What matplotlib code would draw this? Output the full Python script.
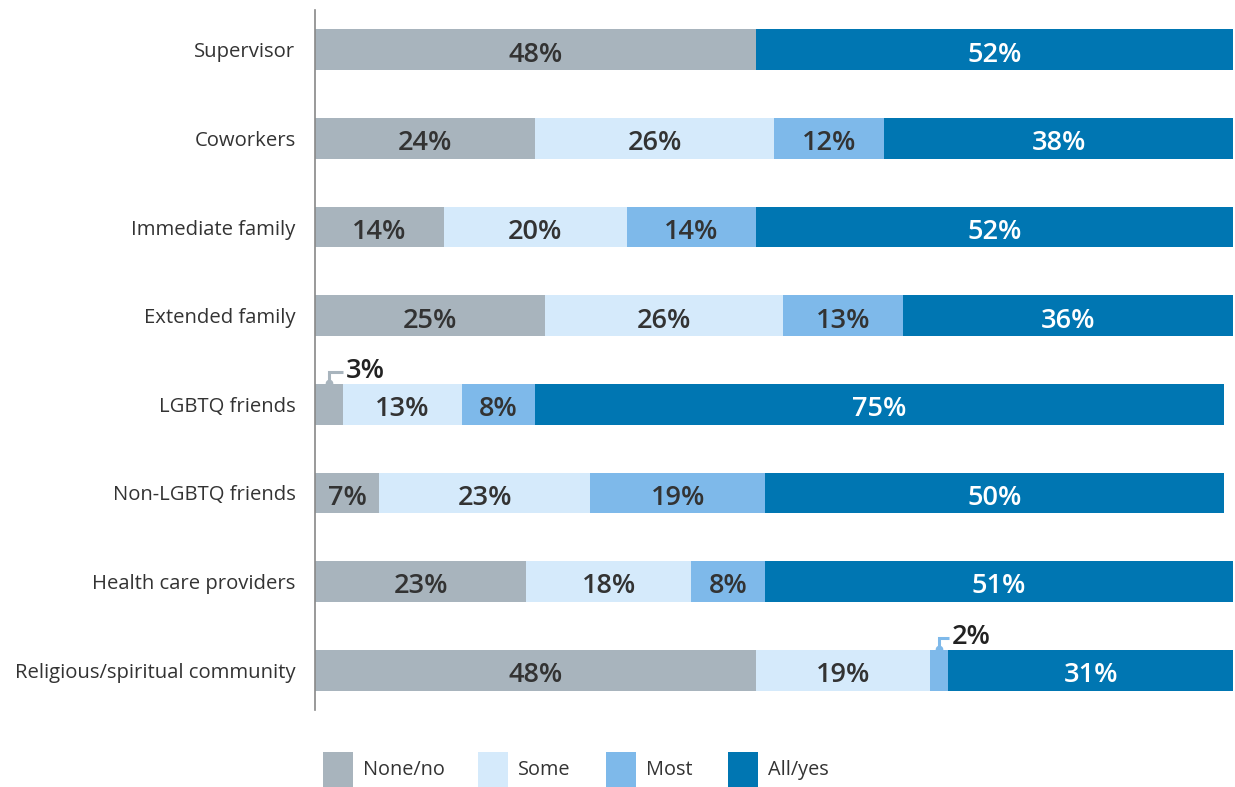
import matplotlib
matplotlib.use("Agg")
import matplotlib.pyplot as plt
from matplotlib.patches import Rectangle

categories = ["Supervisor", "Coworkers", "Immediate family", "Extended family",
              "LGBTQ friends", "Non-LGBTQ friends", "Health care providers",
              "Religious/spiritual community"]
series_names = ["None/no", "Some", "Most", "All/yes"]
none_no = [48, 24, 14, 25, 3, 7, 23, 48]
some = [0, 26, 20, 26, 13, 23, 18, 19]
most = [0, 12, 14, 13, 8, 19, 8, 2]
all_yes = [52, 38, 52, 36, 75, 50, 51, 31]

colors = ["#A8B4BD", "#D5EAFB", "#7EB9EA", "#0076B2"]
text_colors = ["#333333", "#333333", "#333333", "white"]

plt.rcParams['font.family'] = ['Open Sans', 'DejaVu Sans']

W, H = 1235, 787
fig = plt.figure(figsize=(W / 100, H / 100), dpi=100)
ax = fig.add_axes([315/W, 1 - 710/H, 918/W, 700/H])

series = [none_no, some, most, all_yes]
ypos = list(range(len(categories)))
h = 0.46
left = [0] * len(categories)
for si, vals in enumerate(series):
    ax.barh(ypos, vals, left=left, height=h, color=colors[si], edgecolor='none')
    for i, v in enumerate(vals):
        if v == 0:
            continue
        cx = left[i] + v / 2
        if v >= 5:
            ax.text(cx, i + 0.135, f"{v}%", ha='center', va='baseline', fontsize=19.5,
                    fontweight='semibold', color=text_colors[si])
        else:
            top = i - h / 2
            yl = top - 0.13
            xr = left[i] + v + 0.05
            ax.plot([cx, cx, xr], [top, yl, yl], color=colors[si], lw=2.2,
                    solid_capstyle='butt', solid_joinstyle='miter')
            ax.plot([cx], [top - 0.01], marker='o', ms=5.5, color=colors[si],
                    markeredgewidth=0)
            ax.text(xr + 0.35, top - 0.065, f"{v}%", ha='left', va='baseline', fontsize=19.5,
                    fontweight='semibold', color='#222222')
    left = [l + v for l, v in zip(left, vals)]

ax.set_xlim(0, 100)
ax.set_ylim(len(categories) - 0.55, -0.45)
ax.set_yticks(ypos)
ax.set_yticklabels(categories, fontsize=14.6, color='#333333')
ax.tick_params(axis='y', length=0, pad=14)
ax.set_xticks([])
for s in ['top', 'right', 'bottom']:
    ax.spines[s].set_visible(False)
ax.spines['left'].set_color('#888888')
ax.spines['left'].set_linewidth(1.2)

# legend drawn manually in figure pixel coordinates
sq_x = [323, 478, 606, 728]
for name, c, x in zip(series_names, colors, sq_x):
    fig.patches.append(Rectangle((x / W, 1 - 787 / H), 30 / W, 35 / H,
                                 transform=fig.transFigure, facecolor=c,
                                 edgecolor='none'))
    fig.text((x + 40) / W, 1 - 770 / H, name, ha='left', va='center',
             fontsize=14.3, color='#333333')

fig.savefig("out.png", dpi=100)
